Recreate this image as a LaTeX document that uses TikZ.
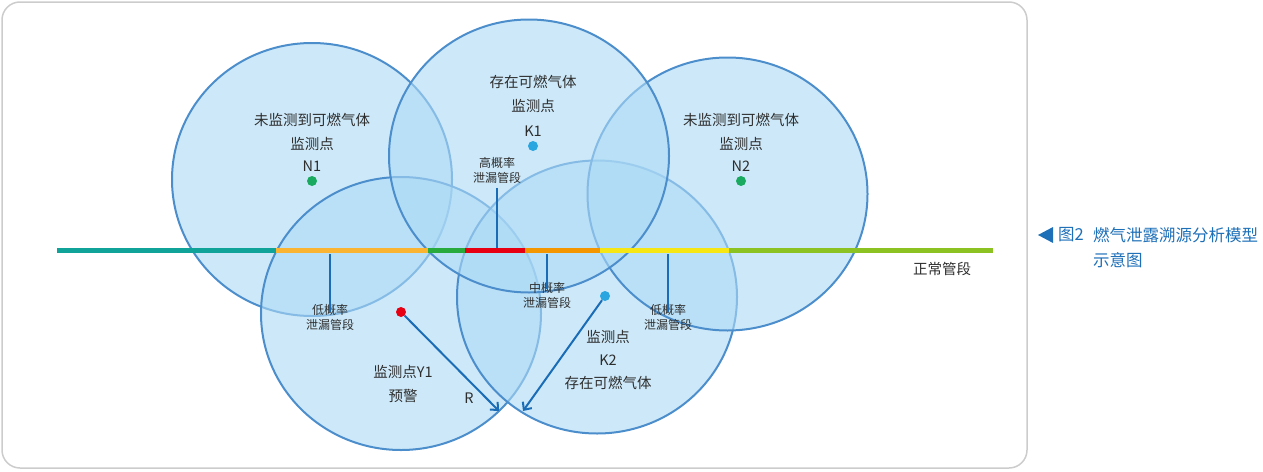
\documentclass[tikz,border=0pt]{standalone}
\usepackage{fontspec}
\setmainfont{Noto Sans CJK SC}
\usetikzlibrary{arrows.meta,positioning,shapes.geometric}
\definecolor{zonefill}{RGB}{172,218,245}
\definecolor{zoneline}{RGB}{76,142,204}
\definecolor{framegrey}{RGB}{204,204,204}
\definecolor{txtgrey}{RGB}{45,45,45}
\definecolor{tickblue}{RGB}{26,108,182}
\definecolor{legblue}{RGB}{29,111,184}
\definecolor{ngreen}{RGB}{26,170,95}
\definecolor{kblue}{RGB}{41,166,224}
\definecolor{yred}{RGB}{230,0,18}
\definecolor{pteal}{RGB}{16,163,154}
\definecolor{psand}{RGB}{250,180,50}
\definecolor{pgreen}{RGB}{40,170,60}
\definecolor{pred}{RGB}{230,0,18}
\definecolor{porange}{RGB}{243,150,0}
\definecolor{pyellow}{RGB}{245,230,20}
\definecolor{plime}{RGB}{140,195,35}
\begin{document}
\begin{tikzpicture}
        [x=1pt,y=-1pt,
        zone/.style={ellipse,minimum width=280pt,minimum height=273pt,inner sep=0pt,draw=zoneline,line width=2pt,fill=zonefill,fill opacity=0.6},
        dot/.style={circle,inner sep=0pt,minimum size=10pt},
        txt/.style={inner sep=0pt,text=txtgrey,font=\fontsize{14.5}{24}\selectfont,align=center},
        small/.style={inner sep=0pt,text=txtgrey,font=\fontsize{12}{15}\selectfont,align=center},
        legend/.style={inner sep=0pt,text=legblue,font=\fontsize{16.5}{25}\selectfont,align=left},
        tick/.style={draw=tickblue,line width=2pt},
        radius/.style={draw=tickblue,line width=2pt,-{Straight Barb[length=6pt,width=11pt]}},
        pipe/.style={line width=4.5pt}]
        \useasboundingbox (0,0) rectangle (1263,471);
        \draw[framegrey,line width=1.5pt,rounded corners=18pt] (2,2) rectangle (1027,468);
        \node[zone] (zN1) at (312,179.5) {};
        \node[zone] (zY1) at (401,313.5) {};
        \node[zone] (zK2) at (597,297) {};
        \node[zone] (zN2) at (727.5,194) {};
        \node[zone] (zK1) at (529,156) {};
        \draw[pipe,pteal] (57,250.5) -- (276,250.5);
        \draw[pipe,psand] (276,250.5) -- (428,250.5);
        \draw[pipe,pgreen] (428,250.5) -- (465,250.5);
        \draw[pipe,pred] (465,250.5) -- (525,250.5);
        \draw[pipe,porange] (525,250.5) -- (600,250.5);
        \draw[pipe,pyellow] (600,250.5) -- (729,250.5);
        \draw[pipe,plime] (729,250.5) -- (993,250.5);
        \node[small] (hi) at (497,170.5) {高概率\\泄漏管段};
        \node[small] (lowA) at (330,317) {低概率\\泄漏管段};
        \node[small] (mid) at (547,295.5) {中概率\\泄漏管段};
        \node[small] (lowB) at (668,317.5) {低概率\\泄漏管段};
        \draw[tick] (hi.south) ++(0,4) -- (497,248);
        \draw[tick] (330,254) -- ([yshift=-8pt]lowA.north);
        \draw[tick] (547,254) -- ([yshift=-7pt]mid.north);
        \draw[tick] (668,254) -- ([yshift=-8pt]lowB.north);
        \node[txt] (tN1) at (312,131.5) {未监测到可燃气体\\监测点};
        \node[dot,fill=ngreen,label={[txt,label distance=4pt]above:N1}] (n1) at (312,181) {};
        \node[txt] (tK1) at (533,94) {存在可燃气体\\监测点};
        \node[dot,fill=kblue,label={[txt,label distance=4pt]above:K1}] (k1) at (533,146) {};
        \node[txt] (tN2) at (741,131.5) {未监测到可燃气体\\监测点};
        \node[dot,fill=ngreen,label={[txt,label distance=4pt]above:N2}] (n2) at (741,181) {};
        \node[dot,fill=yred] (y1) at (401,312) {};
        \node[dot,fill=kblue] (k2) at (605,296) {};
        \node[txt] (tY1) at (403,384) {监测点Y1\\预警};
        \node[txt,font=\fontsize{14.5}{23}\selectfont] (tK2) at (608,360) {监测点\\K2\\存在可燃气体};
        \node[txt] (r) at (469,398) {R};
        \coordinate (yEnd) at (499,411);
        \coordinate (kEnd) at (523,411);
        \draw[radius] (y1) -- (yEnd);
        \draw[radius] (k2) -- (kEnd);
        \node[txt] (normal) at (942,269) {正常管段};
        \fill[legblue] (1038,235) -- (1053,227) -- (1053,243) -- cycle;
        \node[legend,anchor=west] (fig) at (1058,235) {图2};
        \node[legend,anchor=west] (title) at (1093,247.5) {燃气泄露溯源分析模型\\示意图};
    \end{tikzpicture}
\end{document}
